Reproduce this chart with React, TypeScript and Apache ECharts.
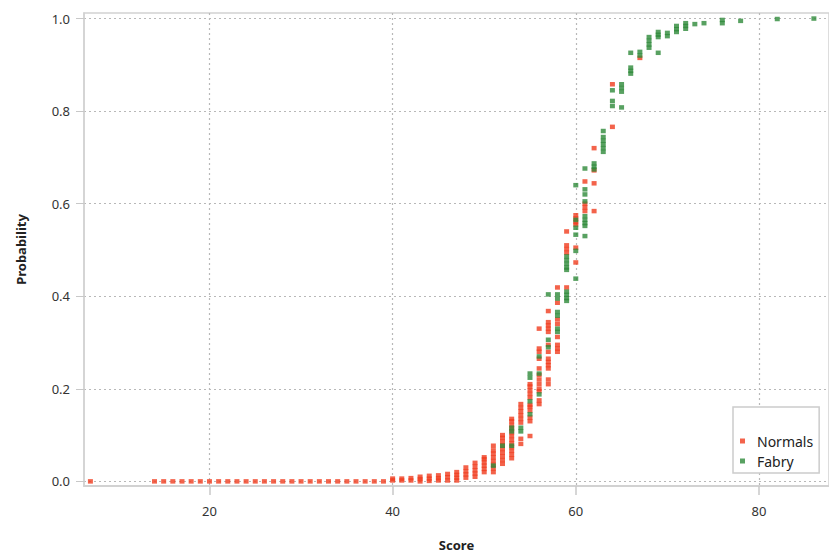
import React, { useEffect, useRef } from "react";
import * as echarts from "echarts";

const xTicks = [20, 40, 60, 80];
const yTicks = [0, 0.2, 0.4, 0.6, 0.8, 1.0];

// [score, probability]
const normals: [number, number][] = [
  [7, 0],
  [14, 0], [15, 0], [16, 0], [17, 0], [18, 0], [19, 0], [20, 0], [21, 0], [22, 0], [23, 0],
  [24, 0], [25, 0], [26, 0], [27, 0], [28, 0], [29, 0], [30, 0], [31, 0], [32, 0], [33, 0],
  [34, 0], [35, 0], [36, 0], [37, 0], [38, 0], [39, 0],
  [40, 0.002], [40, 0.006],
  [41, 0.002], [41, 0.006],
  [42, 0.002], [42, 0.007],
  [43, 0.0], [43, 0.005], [43, 0.01],
  [44, 0.001], [44, 0.006], [44, 0.012],
  [45, 0.002], [45, 0.007], [45, 0.013],
  [46, 0.002], [46, 0.009], [46, 0.016],
  [47, 0.002], [47, 0.008], [47, 0.014], [47, 0.02],
  [48, 0.008], [48, 0.015], [48, 0.022], [48, 0.03],
  [49, 0.01], [49, 0.017], [49, 0.024], [49, 0.032], [49, 0.04],
  [50, 0.02], [50, 0.027], [50, 0.034], [50, 0.041], [50, 0.048], [50, 0.052],
  [51, 0.02], [51, 0.028], [51, 0.036], [51, 0.044], [51, 0.052], [51, 0.06], [51, 0.067], [51, 0.077],
  [52, 0.038], [52, 0.046], [52, 0.054], [52, 0.062], [52, 0.07], [52, 0.078], [52, 0.086], [52, 0.094], [52, 0.1],
  [53, 0.05], [53, 0.058], [53, 0.066], [53, 0.074], [53, 0.082], [53, 0.09], [53, 0.098], [53, 0.106],
  [53, 0.114], [53, 0.122], [53, 0.13], [53, 0.135],
  [54, 0.081], [54, 0.092], [54, 0.127], [54, 0.135], [54, 0.143], [54, 0.151], [54, 0.159], [54, 0.167],
  [55, 0.098], [55, 0.13], [55, 0.138], [55, 0.153], [55, 0.161], [55, 0.165], [55, 0.181], [55, 0.189],
  [55, 0.197], [55, 0.205], [55, 0.21],
  [56, 0.33], [56, 0.265], [56, 0.28], [56, 0.287], [56, 0.167], [56, 0.175], [56, 0.195], [56, 0.2],
  [56, 0.21], [56, 0.22], [56, 0.23], [56, 0.244],
  [57, 0.368], [57, 0.323], [57, 0.33], [57, 0.337], [57, 0.344], [57, 0.28], [57, 0.295], [57, 0.244],
  [57, 0.251], [57, 0.258], [57, 0.265], [57, 0.21], [57, 0.22],
  [58, 0.419], [58, 0.386], [58, 0.312], [58, 0.28], [58, 0.287], [58, 0.295], [58, 0.34], [58, 0.35],
  [59, 0.54], [59, 0.51], [59, 0.502], [59, 0.494], [59, 0.419],
  [60, 0.575], [60, 0.568], [60, 0.56], [60, 0.555], [60, 0.505], [60, 0.473],
  [61, 0.648], [61, 0.6], [61, 0.592], [61, 0.584],
  [62, 0.72], [62, 0.672], [62, 0.644], [62, 0.584],
  [64, 0.858], [64, 0.766],
  [67, 0.915],
];

const fabry: [number, number][] = [
  [51, 0.034],
  [52, 0.077],
  [53, 0.116], [53, 0.108], [53, 0.077],
  [54, 0.108], [54, 0.116],
  [55, 0.145], [55, 0.173], [55, 0.224], [55, 0.233],
  [56, 0.27], [56, 0.233], [56, 0.188],
  [57, 0.404], [57, 0.306], [57, 0.29],
  [58, 0.404], [58, 0.395], [58, 0.366], [58, 0.358], [58, 0.33], [58, 0.323],
  [59, 0.486], [59, 0.478], [59, 0.47], [59, 0.462], [59, 0.457], [59, 0.41], [59, 0.403], [59, 0.396], [59, 0.39],
  [60, 0.64], [60, 0.565], [60, 0.548], [60, 0.533], [60, 0.498], [60, 0.438],
  [61, 0.676], [61, 0.631], [61, 0.62], [61, 0.605], [61, 0.573], [61, 0.565], [61, 0.558], [61, 0.552], [61, 0.53],
  [62, 0.687], [62, 0.68], [62, 0.674],
  [63, 0.757], [63, 0.744], [63, 0.736], [63, 0.728], [63, 0.72], [63, 0.712],
  [64, 0.845], [64, 0.822], [64, 0.811],
  [65, 0.858], [65, 0.85], [65, 0.842], [65, 0.808],
  [66, 0.926], [66, 0.894], [66, 0.887], [66, 0.881],
  [67, 0.928], [67, 0.92],
  [68, 0.96], [68, 0.952], [68, 0.944], [68, 0.937],
  [69, 0.971], [69, 0.965], [69, 0.96], [69, 0.926],
  [70, 0.969], [70, 0.962],
  [71, 0.984], [71, 0.977], [71, 0.971],
  [72, 0.99], [72, 0.984], [72, 0.978],
  [73, 0.988],
  [74, 0.99],
  [76, 0.997], [76, 0.99],
  [78, 0.995],
  [82, 0.999],
  [86, 1.0],
];

const RED = "#f03c1e";
const GREEN = "#2e8a3a";
const FONT = "'Noto Sans', sans-serif";

export default function App() {
  const ref = useRef<HTMLDivElement>(null);
  useEffect(() => {
    if (!ref.current) return;
    const chart = echarts.init(ref.current, null, { renderer: "svg" });
    const split = { show: true, lineStyle: { color: "#b8b8b8", type: [2, 3], width: 1.2 } };
    chart.setOption({
      animation: false,
      backgroundColor: "#ffffff",
      textStyle: { fontFamily: FONT },
      grid: {
        left: 84,
        top: 13,
        right: -4,
        height: 478,
        show: true,
        borderColor: "#d2d2d2",
        borderWidth: 1.5,
        containLabel: false,
      },
      legend: {
        orient: "vertical",
        left: 733,
        top: 407,
        padding: [27, 6, 5, 7],
        itemGap: 6,
        itemWidth: 5,
        itemHeight: 5,
        borderColor: "#cccccc",
        borderWidth: 1.5,
        backgroundColor: "#ffffff",
        data: [
          { name: "Normals", icon: "rect" },
          { name: "Fabry", icon: "rect" },
        ],
        textStyle: {
          fontFamily: FONT,
          fontSize: 14,
          color: "#222222",
          padding: [0, 0, 0, 7],
        },
      },
      xAxis: {
        type: "value",
        min: 6.3,
        max: 87.65,
        name: "Score",
        nameLocation: "middle",
        nameGap: 52,
        nameTextStyle: { fontFamily: FONT, fontSize: 13, fontWeight: "bold", color: "#222" },
        axisLine: { show: true, onZero: false, lineStyle: { color: "#d2d2d2", width: 2 } },
        axisTick: { show: true, length: 9, customValues: xTicks, lineStyle: { color: "#c8c8c8", width: 1.5 } },
        axisLabel: {
          customValues: xTicks,
          margin: 18,
          fontFamily: FONT,
          fontSize: 13,
          color: "#333",
        },
        splitLine: split,
      },
      yAxis: {
        type: "value",
        min: -0.01,
        max: 1.012,
        name: "Probability",
        nameLocation: "middle",
        nameGap: 57,
        nameTextStyle: { fontFamily: FONT, fontSize: 13, fontWeight: "bold", color: "#222" },
        axisLine: { show: true, onZero: false, lineStyle: { color: "#d2d2d2", width: 1.5 } },
        axisTick: { show: true, length: 8, customValues: yTicks, lineStyle: { color: "#c8c8c8", width: 1 } },
        axisLabel: {
          customValues: yTicks,
          margin: 14,
          fontFamily: FONT,
          fontSize: 13,
          color: "#333",
          formatter: (v: number) => v.toFixed(1),
        },
        splitLine: split,
      },
      series: [
        {
          name: "Normals",
          type: "scatter",
          symbol: "rect",
          symbolSize: [5, 4.5],
          itemStyle: { color: RED },
          data: normals,
        },
        {
          name: "Fabry",
          type: "scatter",
          symbol: "rect",
          symbolSize: [5, 4.5],
          itemStyle: { color: GREEN },
          data: fabry,
        },
      ],
    });
    return () => chart.dispose();
  }, []);
  return (
    <div
      ref={ref}
      style={{ position: "fixed", left: 0, top: 0, width: 829, height: 556, background: "#fff" }}
    />
  );
}
